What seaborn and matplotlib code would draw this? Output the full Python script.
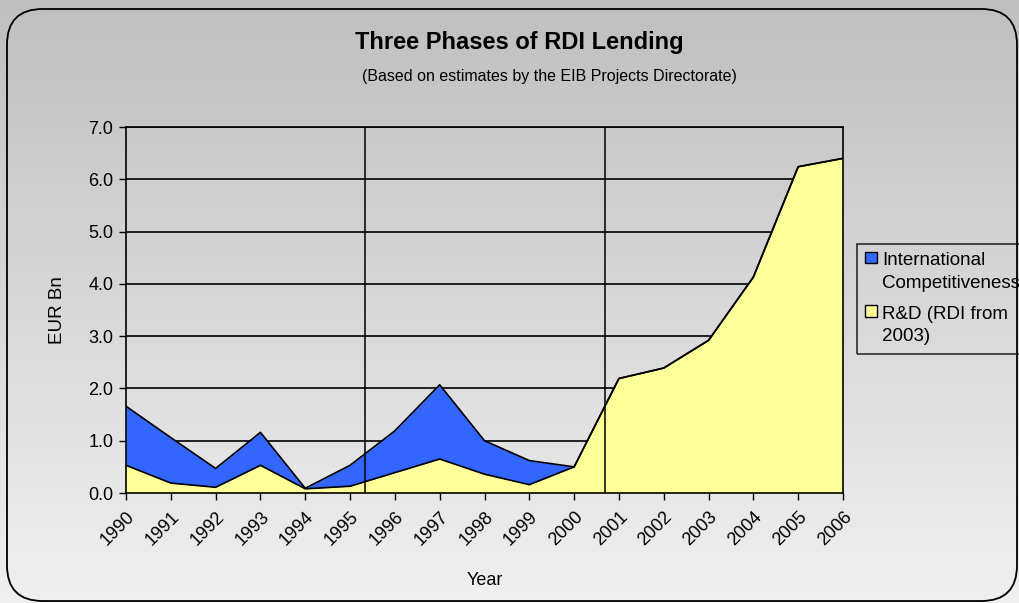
import numpy as np
import pandas as pd
import matplotlib
matplotlib.use("Agg")
import matplotlib.pyplot as plt
from matplotlib.patches import FancyBboxPatch, Patch, Rectangle
from matplotlib.legend_handler import HandlerPatch
import seaborn as sns

# Lending volumes (EUR Bn) by year
years = list(range(1990, 2007))
rd_lending = [0.53, 0.19, 0.11, 0.53, 0.08, 0.13, 0.39, 0.65, 0.36, 0.16, 0.50,
              2.19, 2.39, 2.92, 4.13, 6.24, 6.40]
intl_competitiveness = [1.13, 0.87, 0.36, 0.63, 0.01, 0.40, 0.80, 1.42, 0.64, 0.46, 0.00,
                        0.0, 0.0, 0.0, 0.0, 0.0, 0.0]
phase_breaks = [1995.33, 2000.69]
y_ticks = [0, 1, 2, 3, 4, 5, 6, 7]

df = pd.DataFrame({"Year": years, "RD": rd_lending, "IC": intl_competitiveness})
df["Total"] = df["RD"] + df["IC"]

sns.set_theme(style="white")
plt.rcParams["font.family"] = ["Liberation Sans", "DejaVu Sans"]
plt.rcParams["text.color"] = "black"
plt.rcParams["axes.labelcolor"] = "black"
plt.rcParams["xtick.color"] = "black"
plt.rcParams["ytick.color"] = "black"

W, H = 1020, 603
fig = plt.figure(figsize=(W / 100, H / 100), dpi=100)

# Vertical grey gradient behind everything
bg = fig.add_axes([0, 0, 1, 1], zorder=-10)
grad = np.linspace(0, 1, 256).reshape(-1, 1)
bg.imshow(grad, aspect="auto", cmap=matplotlib.colors.LinearSegmentedColormap.from_list(
    "g", ["#bfbfbf", "#f0f0f0"]), extent=[0, 1, 0, 1], origin="upper")
bg.set_xlim(0, 1)
bg.set_ylim(0, 1)
bg.axis("off")

# Rounded chart frame
frame = FancyBboxPatch((7 / W, 1 - 601 / H), (1017 - 7) / W, (601 - 9) / H,
                       boxstyle="round,pad=0,rounding_size=0.035",
                       transform=fig.transFigure, fill=False, edgecolor="black",
                       linewidth=1.3, mutation_aspect=W / H)
bg.add_patch(frame)

left, right = 126 / W, 843 / W
top, bottom = 1 - 127 / H, 1 - 493 / H
ax = fig.add_axes([left, bottom, right - left, top - bottom])
ax.set_facecolor("none")

yellow = "#ffff99"
blue = "#3366ff"

ax.fill_between(df["Year"], 0, df["RD"], color=yellow, linewidth=0, zorder=2)
ax.fill_between(df["Year"], df["RD"], df["Total"], color=blue, linewidth=0, zorder=2)
sns.lineplot(data=df, x="Year", y="RD", color="black", linewidth=1.2, ax=ax, zorder=3)
sns.lineplot(data=df, x="Year", y="Total", color="black", linewidth=1.2, ax=ax, zorder=3)

for yv in y_ticks[1:]:
    ax.axhline(yv, color="black", linewidth=1.2, zorder=1)
for xb in phase_breaks:
    ax.axvline(xb, color="black", linewidth=1.1, zorder=4)

ax.set_xlim(years[0], years[-1])
ax.set_ylim(0, 7)
ax.set_yticks(y_ticks)
ax.set_yticklabels([f"{v:.1f}" for v in y_ticks], fontsize=13)
ax.set_xticks(years)
ax.set_xticklabels([str(y) for y in years], rotation=45, ha="right", va="top",
                   rotation_mode="anchor", fontsize=13)
ax.tick_params(axis="both", direction="out", length=5, width=1, color="black",
               left=True, bottom=True, pad=4)
ax.tick_params(axis="x", pad=6)
for s in ax.spines.values():
    s.set_visible(True)
    s.set_color("black")
    s.set_linewidth(1.2)

ax.set_xlabel("Year", fontsize=13, labelpad=17)
ax.set_ylabel("EUR Bn", fontsize=13.5, labelpad=16)

fig.text((355 + 683) / 2 / W, 1 - 42 / H, "Three Phases of RDI Lending",
         ha="center", va="center", fontsize=17, fontweight="bold")
fig.text((362 + 736) / 2 / W, 1 - 76 / H, "(Based on estimates by the EIB Projects Directorate)",
         ha="center", va="center", fontsize=11.5)


# Legend swatch aligned with the first line of a two-line label
def top_aligned_square(legend, orig_handle, xdescent, ydescent, width, height, fontsize):
    side = 0.6 * fontsize
    return Rectangle((-xdescent, -ydescent + height / 2 - side / 2 + 0.78 * fontsize),
                     side, side)


handles = [Patch(facecolor=blue, edgecolor="black", linewidth=1),
           Patch(facecolor=yellow, edgecolor="black", linewidth=1)]
labels = ["International\nCompetitiveness", "R&D (RDI from\n2003)"]
leg = fig.legend(handles, labels, loc="upper left", bbox_to_anchor=(857 / W, 1 - 244 / H),
                 fontsize=13.5, frameon=True, fancybox=False, handlelength=0.6,
                 handleheight=0.6, handletextpad=0.3, borderpad=0.45, labelspacing=0.75,
                 borderaxespad=0,
                 handler_map={Patch: HandlerPatch(patch_func=top_aligned_square)})
for t in leg.get_texts():
    t.set_linespacing(1.42)
leg.get_frame().set_facecolor("none")
leg.get_frame().set_edgecolor("black")
leg.get_frame().set_linewidth(1.2)

fig.savefig("out.png", dpi=100)
